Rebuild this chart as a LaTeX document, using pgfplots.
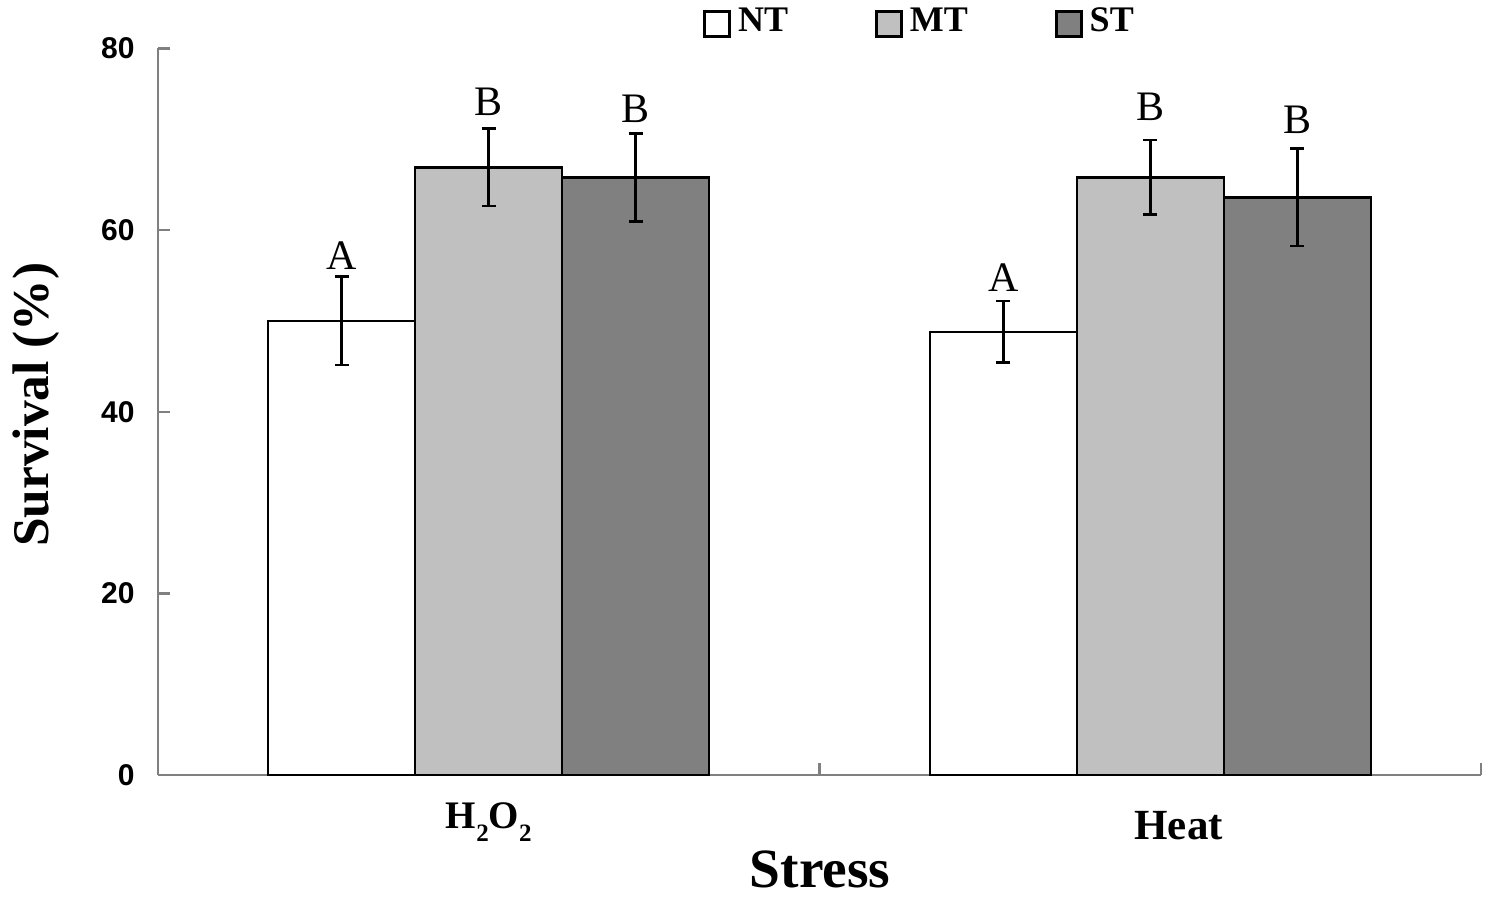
\documentclass[border=0pt]{standalone}
\usepackage{fontspec}
\setmainfont{Liberation Serif}
\newfontfamily\sansf{Liberation Sans}
\usepackage{pgfplots}
\pgfplotsset{compat=1.18}
\definecolor{mtgray}{HTML}{C0C0C0}
\definecolor{stgray}{HTML}{808080}
\definecolor{axgray}{HTML}{808080}

\pgfplotstableread{
x y err
0 50.0 4.85
1 48.8 3.4
}\ntdata
\pgfplotstableread{
x y err
0 66.9 4.25
1 65.8 4.1
}\mtdata
\pgfplotstableread{
x y err
0 65.8 4.85
1 63.6 5.35
}\stdata

\newcommand{\sub}[1]{\raisebox{-6.5pt}{\fontsize{12.5}{12.5}\selectfont #1}}

\begin{document}
\begin{tikzpicture}
\path[use as bounding box] (0,0) rectangle (744.5pt,448.5pt);
\begin{axis}[
  at={(79pt,60.85pt)}, anchor=south west,
  scale only axis, width=661.5pt, height=363.5pt,
  xmin=-0.5, xmax=1.5, ymin=0, ymax=80,
  axis x line*=bottom, axis y line*=left,
  axis line style={axgray, line width=1.2pt},
  tick align=inside,
  tick style={axgray, line width=1.2pt},
  major tick length=6pt,
  ytick={0,20,40,60,80},
  /pgf/number format/assume math mode=true,
  yticklabel style={font=\sansf\bfseries\fontsize{15}{15}\selectfont, anchor=east, inner sep=0pt, xshift=-11.5pt},
  xtick={0,1.043},
  xticklabels={\raisebox{5.5pt}{\fontsize{19.5}{19.5}\selectfont H\sub{2}O\sub{2}}, Heat},
  xtick style={draw=none},
  xticklabel style={font=\bfseries\fontsize{21.5}{21.5}\selectfont, anchor=base, inner sep=0pt, yshift=-26.35pt},
  extra x ticks={-0.5,0.5,1.5},
  extra x tick labels={},
  extra x tick style={major tick length=-6pt, xtick style={draw=axgray, line width=1.2pt}},
  ylabel={Survival (\%)},
  ylabel style={at={(axis description cs:-0.0919,0.5096)}, anchor=center, inner sep=0pt, font=\bfseries\fontsize{25.7}{25.7}\selectfont},
  xlabel={Stress},
  xlabel style={at={(axis description cs:0.5005,-0.155)}, anchor=base, inner sep=0pt, font=\bfseries\fontsize{27.7}{27.7}\selectfont},
  ybar, bar width=73.5pt,
  legend columns=3,
  legend style={at={(axis description cs:0.4119,1.0568)}, anchor=north west, draw=none, fill=none,
     font=\bfseries\fontsize{18}{18}\selectfont, inner sep=0pt, nodes={inner sep=0pt},
     /tikz/every odd column/.append style={column sep=3.5pt},
     /tikz/column 2/.append style={column sep=43.5pt},
     /tikz/column 4/.append style={column sep=43.5pt}},
  legend image code/.code={\draw[#1, line width=1.4pt] (0pt,-7.75pt) rectangle (12.5pt,4.75pt);},
  error bars/y dir=both, error bars/y explicit,
  error bars/error bar style={black, line width=1.4pt},
  error bars/error mark options={rotate=90, black, line width=1.4pt, mark size=3.6pt},
]
\addplot[fill=white, draw=black, line width=1.2pt, bar shift=-73.5pt] table[x=x, y=y, y error=err] {\ntdata};
\addlegendentry{NT}
\addplot[fill=mtgray, draw=black, line width=1.2pt, bar shift=0pt] table[x=x, y=y, y error=err] {\mtdata};
\addlegendentry{MT}
\addplot[fill=stgray, draw=black, line width=1.2pt, bar shift=73.5pt] table[x=x, y=y, y error=err] {\stdata};
\addlegendentry{ST}
% significance letters
\addplot[draw=none, fill=none, bar shift=-73.5pt, forget plot, nodes near coords, point meta=explicit symbolic,
  every node near coord/.append style={anchor=base, inner sep=0pt, font=\fontsize{21}{21}\selectfont, black}]
  table[x=x, y=y, meta=l] {
x y l
0 55.7 A
1 53.2 A
};
\addplot[draw=none, fill=none, bar shift=0pt, forget plot, nodes near coords, point meta=explicit symbolic,
  every node near coord/.append style={anchor=base, inner sep=0pt, font=\fontsize{21}{21}\selectfont, black}]
  table[x=x, y=y, meta=l] {
x y l
0 72.6 B
1 72.05 B
};
\addplot[draw=none, fill=none, bar shift=73.5pt, forget plot, nodes near coords, point meta=explicit symbolic,
  every node near coord/.append style={anchor=base, inner sep=0pt, font=\fontsize{21}{21}\selectfont, black}]
  table[x=x, y=y, meta=l] {
x y l
0 71.8 B
1 70.6 B
};
\end{axis}
\end{tikzpicture}
\end{document}
